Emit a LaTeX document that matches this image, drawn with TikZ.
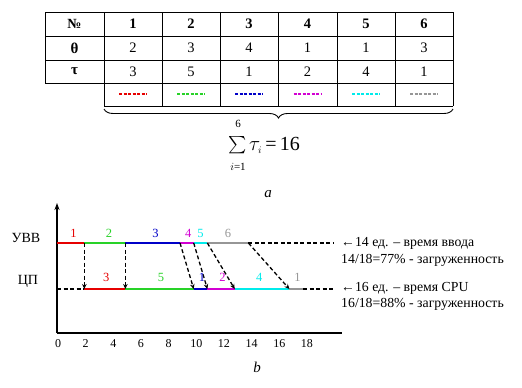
\documentclass[tikz,border=0pt]{standalone}
\usepackage{amsmath}
\usepackage{fontspec}
\setmainfont{Liberation Serif}
\usetikzlibrary{decorations.pathreplacing,arrows.meta}
\definecolor{jred}{RGB}{230,0,0}
\definecolor{jgreen}{RGB}{40,210,40}
\definecolor{jblue}{RGB}{0,0,200}
\definecolor{jmag}{RGB}{210,0,210}
\definecolor{jcyan}{RGB}{0,235,235}
\definecolor{jgray}{RGB}{150,150,150}
\begin{document}
\begin{tikzpicture}[x=1pt,y=-1pt,
  tbl/.style={line width=0.9pt},
  cell/.style={font=\fontsize{14.5}{16}\selectfont, inner sep=0pt},
  swatch/.style={line width=1.3pt, dash pattern=on 3pt off 1.5pt},
  seg/.style={line width=2pt},
  darr/.style={line width=1.3pt, dash pattern=on 4pt off 2.5pt, -{Stealth[length=5pt,width=4.5pt]}},
  dline/.style={line width=1.4pt, dash pattern=on 4pt off 2.5pt},
  axisl/.style={line width=1.3pt},
  lab/.style={font=\fontsize{12.5}{14}\selectfont, inner sep=0pt},
  txt/.style={font=\fontsize{13.8}{16}\selectfont, inner sep=0pt, anchor=west},
  tick/.style={font=\fontsize{12}{13}\selectfont, inner sep=0pt},
  lim/.style={font=\fontsize{11}{12}\selectfont, inner sep=0pt}
]
\useasboundingbox (0,0) rectangle (522,388);

% ---------- table ----------
\draw[tbl] (45,12) -- (453,12);
\draw[tbl] (45,36) -- (453,36);
\draw[tbl] (45,60) -- (453,60);
\draw[tbl] (45,83) -- (453,83);
\draw[tbl] (104,106) -- (453,106);
\draw[tbl] (45,12) -- (45,83);
\foreach \xx in {104,162,220,278,337,395,453} \draw[tbl] (\xx,12) -- (\xx,106);

\node[cell,font=\fontsize{14}{15}\selectfont\bfseries] (h0) at (74.5,24) {№};
\node[cell,font=\fontsize{15}{15}\selectfont\bfseries] (t0) at (74.5,48) {θ};
\node[cell,font=\fontsize{15}{15}\selectfont\bfseries] (s0) at (74.5,71.5) {τ};

\foreach \i/\cx/\th/\ta/\col in {1/133/2/3/jred,2/191/3/5/jgreen,3/249/4/1/jblue,4/307.5/1/2/jmag,5/366/1/4/jcyan,6/424/3/1/jgray}{
  \node[cell,font=\fontsize{14.5}{16}\selectfont\bfseries] (h\i) at (\cx,24) {\i};
  \node[cell] (t\i) at (\cx,48) {\th};
  \node[cell] (s\i) at (\cx,71.5) {\ta};
  \draw[swatch,\col] (\cx-14,94) -- (\cx+14,94);
}

% brace and sum
\draw[line width=0.9pt,decorate,decoration={brace,amplitude=9pt,mirror}] (104,109) -- (453,109);
\node[inner sep=0pt,font=\fontsize{18}{20}\selectfont] (sig) at (238,145) {$\sum$};
\node[lim] (sup) at (238,124) {6};
\node[lim] (sub) at (238,167) {$i$=1};
\node[inner sep=0pt,anchor=west,font=\fontsize{20}{22}\selectfont] (rest) at (249,145.5) {$\tau_{\scriptscriptstyle i}$\,=\,16};
\node[inner sep=0pt,font=\fontsize{15}{16}\selectfont\itshape] (la) at (268,194) {a};

% ---------- chart ----------
\draw[axisl,-{Stealth[length=7pt,width=5pt]}] (57,333) -- (57,203);
\draw[axisl] (57,333) -- (342,333);
\foreach \t in {0,2,...,18} \node[tick] (tk\t) at ({58+13.83*\t},344) {\t};
\node[inner sep=0pt,font=\fontsize{15}{16}\selectfont\itshape] (lb) at (257,367) {b};

\node[inner sep=0pt,font=\fontsize{14}{16}\selectfont] (uvv) at (26,238) {УВВ};
\node[inner sep=0pt,font=\fontsize{14}{16}\selectfont] (cp) at (28,281) {ЦП};

\begin{scope}[shift={(57,0)}, x=13.67pt]
  \foreach \t in {0,2,5,9,10,11,14} \coordinate (U\t) at (\t,243);
  \foreach \t in {0,2,5,10,11,13,17,18} \coordinate (C\t) at (\t,289);
  \coordinate (UE) at (20.2,243);
  \coordinate (CE) at (20.2,289);
  % input line
  \draw[seg,jred] (U0) -- (U2);
  \draw[seg,jgreen] (U2) -- (U5);
  \draw[seg,jblue] (U5) -- (U9);
  \draw[seg,jmag] (U9) -- (U10);
  \draw[seg,jcyan] (U10) -- (U11);
  \draw[seg,jgray] (U11) -- (U14);
  \draw[dline] (U14) -- (UE);
  % cpu line
  \draw[dline] (C0) -- (C2);
  \draw[seg,jred] (C2) -- (C5);
  \draw[seg,jgreen] (C5) -- (C10);
  \draw[seg,jblue] (C10) -- (C11);
  \draw[seg,jmag] (C11) -- (C13);
  \draw[seg,jcyan] (C13) -- (C17);
  \draw[seg,jgray] (C17) -- (C18);
  \draw[dline] (C18) -- (CE);
  % transfers
  \draw[darr] (U2) -- (C2);
  \draw[darr] (U5) -- (C5);
  \draw[darr] (U9) -- (C10);
  \draw[darr] (U10) -- (C11);
  \draw[darr] (U11) -- (C13);
  \draw[darr] (U14) -- (C17);
  % labels
  \node[lab,text=jred] (ul1) at (1.2,233) {1};
  \node[lab,text=jgreen] (ul2) at (3.8,233) {2};
  \node[lab,text=jblue] (ul3) at (7.2,233) {3};
  \node[lab,text=jmag] (ul4) at (9.6,233) {4};
  \node[lab,text=jcyan] (ul5) at (10.5,233) {5};
  \node[lab,text=jgray] (ul6) at (12.5,233) {6};
  \node[lab,text=jred] (cl1) at (3.6,277) {3};
  \node[lab,text=jgreen] (cl2) at (7.6,277) {5};
  \node[lab,text=jblue] (cl3) at (10.6,277) {1};
  \node[lab,text=jmag] (cl4) at (12.1,277) {2};
  \node[lab,text=jcyan] (cl5) at (14.8,277) {4};
  \node[lab,text=jgray] (cl6) at (17.6,277) {1};
\end{scope}

\node[txt] (r1) at (341,243) {←14 ед. – время ввода};
\node[txt] (r2) at (341,260) {14/18=77\% - загруженность};
\node[txt] (r3) at (341,288) {←16 ед. – время CPU};
\node[txt] (r4) at (341,304) {16/18=88\% - загруженность};
\end{tikzpicture}
\end{document}
